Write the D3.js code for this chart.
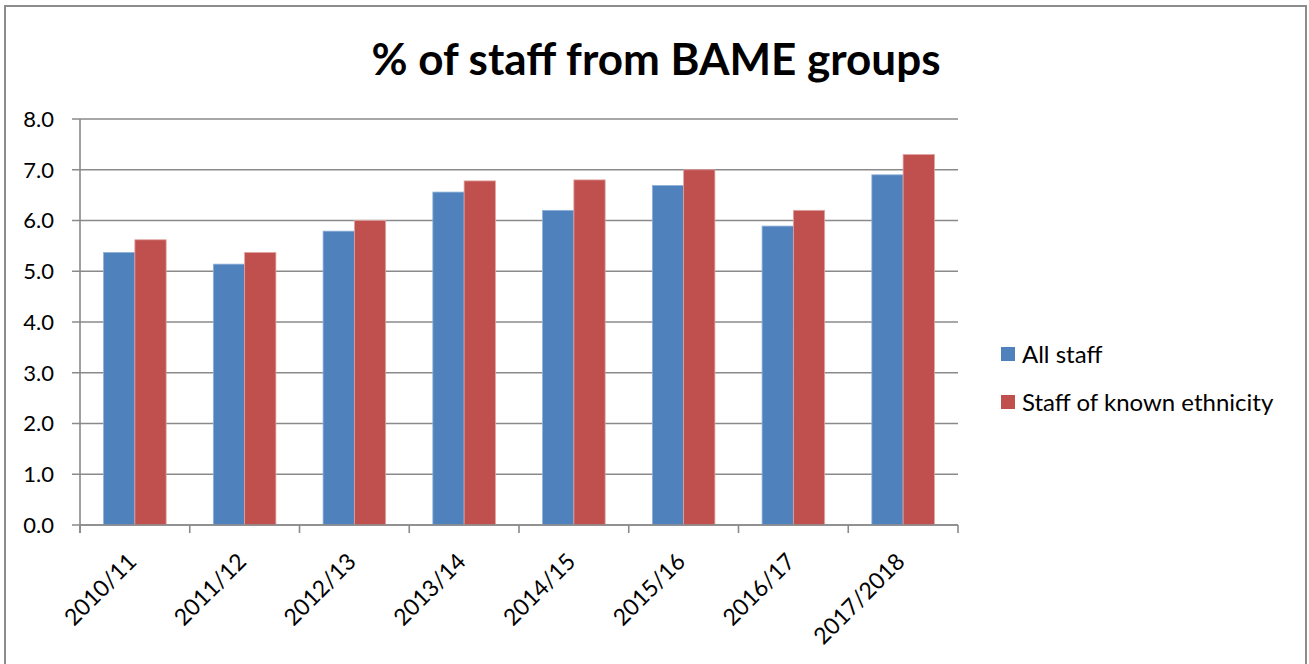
<!DOCTYPE html>
<html>
<head>
<meta charset="utf-8">
<script src="https://cdn.jsdelivr.net/npm/d3@7"></script>
<style>
  html, body { margin: 0; padding: 0; background: #fff; }
  svg text { font-family: Lato, "Open Sans", sans-serif; fill: #000; }
</style>
</head>
<body>
<svg id="chart" width="1309" height="664"></svg>
<script>
// Financial years shown along the x axis
const years = ["2010/11", "2011/12", "2012/13", "2013/14", "2014/15", "2015/16", "2016/17", "2017/2018"];
// Percentage of staff from BAME groups
const allStaff = [5.37, 5.14, 5.79, 6.56, 6.2, 6.69, 5.89, 6.9];
const knownEthnicity = [5.62, 5.37, 6.0, 6.78, 6.8, 7.0, 6.2, 7.3];
const seriesNames = ["All staff", "Staff of known ethnicity"];
const seriesColors = ["#4F81BD", "#C0504D"];
const yTicks = [0, 1, 2, 3, 4, 5, 6, 7, 8];

const svg = d3.select("#chart");
const plot = { left: 80, right: 958, top: 119, bottom: 525 };

// outer frame
svg.append("rect")
  .attr("x", 5).attr("y", 6).attr("width", 1301).attr("height", 680)
  .attr("fill", "none").attr("stroke", "#8c8c8c").attr("stroke-width", 2);

// title
svg.append("text")
  .attr("x", 656).attr("y", 75)
  .attr("text-anchor", "middle")
  .attr("font-size", 44).attr("font-weight", "bold")
  .text("% of staff from BAME groups");

const x0 = d3.scaleBand().domain(years).range([plot.left, plot.right]).paddingInner(0.43).paddingOuter(0.215);
const x1 = d3.scaleBand().domain(seriesNames).range([0, x0.bandwidth()]);
const y = d3.scaleLinear().domain([0, 8]).range([plot.bottom, plot.top]);

// horizontal gridlines with ticks to the left
svg.append("g").selectAll("line").data(yTicks).join("line")
  .attr("x1", plot.left - 8).attr("x2", plot.right)
  .attr("y1", d => y(d)).attr("y2", d => y(d))
  .attr("stroke", "#8a8a8a").attr("stroke-width", 1.6);

// y tick labels
svg.append("g").selectAll("text").data(yTicks).join("text")
  .attr("x", 54).attr("y", d => y(d))
  .attr("dy", "0.36em")
  .attr("text-anchor", "end")
  .attr("font-size", 22)
  .text(d => d3.format(".1f")(d));

// bars
const groups = svg.append("g").selectAll("g").data(years).join("g")
  .attr("transform", d => `translate(${x0(d)},0)`);
groups.selectAll("rect")
  .data((d, i) => [allStaff[i], knownEthnicity[i]].map((v, k) => ({ key: seriesNames[k], v, k })))
  .join("rect")
  .attr("x", d => x1(d.key))
  .attr("width", x1.bandwidth())
  .attr("y", d => y(d.v))
  .attr("height", d => y(0) - y(d.v))
  .attr("fill", d => seriesColors[d.k])
  .attr("stroke", d => d.k === 0 ? "#8fb0d8" : "#e0a3a1")
  .attr("stroke-width", 0.8);

// y axis line
svg.append("line")
  .attr("x1", plot.left).attr("x2", plot.left)
  .attr("y1", plot.top).attr("y2", plot.bottom + 8)
  .attr("stroke", "#8a8a8a").attr("stroke-width", 1.6);

// x axis line and category boundary ticks
svg.append("line")
  .attr("x1", plot.left).attr("x2", plot.right)
  .attr("y1", plot.bottom).attr("y2", plot.bottom)
  .attr("stroke", "#8a8a8a").attr("stroke-width", 1.6);
const step = x0.step();
const boundaries = d3.range(years.length + 1).map(i => plot.left + i * step);
svg.append("g").selectAll("line").data(boundaries).join("line")
  .attr("x1", d => d).attr("x2", d => d)
  .attr("y1", plot.bottom).attr("y2", plot.bottom + 8)
  .attr("stroke", "#8a8a8a").attr("stroke-width", 1.6);

// rotated category labels
svg.append("g").selectAll("text").data(years).join("text")
  .attr("transform", d => `translate(${x0(d) + x0.bandwidth() / 2 + 3},563) rotate(-45)`)
  .attr("text-anchor", "end")
  .attr("font-size", 23)
  .text(d => d);

// legend
const legend = svg.append("g").selectAll("g").data(seriesNames).join("g")
  .attr("transform", (d, i) => `translate(1001,${354 + i * 48})`);
legend.append("rect")
  .attr("x", 0).attr("y", -7).attr("width", 14).attr("height", 14)
  .attr("fill", (d, i) => seriesColors[i]);
legend.append("text")
  .attr("x", 21).attr("y", 0).attr("dy", "0.36em")
  .attr("font-size", 24)
  .text(d => d);
</script>
</body>
</html>
